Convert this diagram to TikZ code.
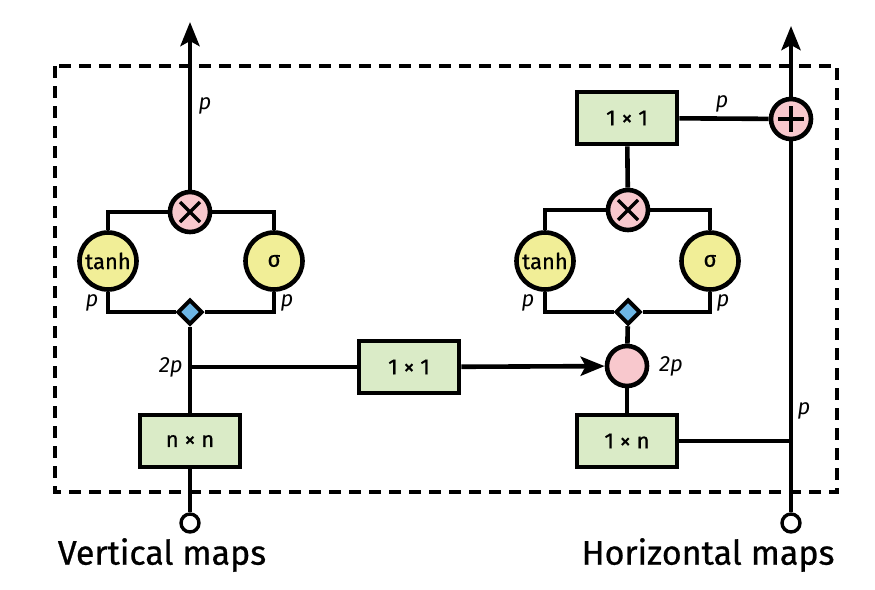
\documentclass[tikz,border=0pt]{standalone}
\usepackage{fontspec}
\setmainfont{Fira Sans}
\newfontfamily\medfont{Fira Sans}[FakeBold=0.7]
\usetikzlibrary{arrows.meta,shapes.geometric}
\definecolor{pinkc}{HTML}{F8C8CD}
\definecolor{yellowc}{HTML}{F1EE97}
\definecolor{greenc}{HTML}{DAEBC7}
\definecolor{bluec}{HTML}{6DB6E5}
\begin{document}
\begin{tikzpicture}[x=1pt,y=-1pt,line width=4.6pt,
  opbox/.style={draw,fill=greenc,minimum width=100pt,minimum height=52pt,inner sep=0pt,font=\medfont\fontsize{22}{24}\selectfont},
  act/.style={circle,draw,fill=yellowc,minimum size=57pt,inner sep=0pt,font=\medfont\fontsize{22}{24}\selectfont},
  pinkop/.style={circle,draw,fill=pinkc,minimum size=40pt,inner sep=0pt},
  mulop/.style={pinkop,path picture={\draw[line width=3.4pt] (path picture bounding box.center) +(-10,-10) -- +(10,10) +(-10,10) -- +(10,-10);}},
  addop/.style={pinkop,path picture={\draw[line width=3.4pt] (path picture bounding box.center) +(-13,0) -- +(13,0) +(0,-13) -- +(0,13);}},
  splitd/.style={diamond,draw,fill=bluec,minimum width=25pt,minimum height=25pt,inner sep=0pt,line width=4pt},
  inport/.style={circle,draw,fill=white,minimum size=18pt,inner sep=0pt,line width=3.4pt},
  lbl/.style={font=\fontsize{22}{24}\selectfont\itshape,inner sep=0pt},
  captext/.style={font=\medfont\fontsize{34}{36}\selectfont,inner sep=0pt},
  arr/.style={-{Stealth[length=24pt,width=19pt,inset=5pt]}}
]
\useasboundingbox (0,0) rectangle (875,589);
\draw[line width=4.2pt,dash pattern=on 12pt off 8pt] (55,66) rectangle (837,492);

% left column nodes
\node[mulop] (mulL) at (190,212) {};
\node[act] (tanhL) at (108,261) {tanh};
\node[act] (sigL) at (274,261) {σ};
\node[splitd] (diaL) at (190,312) {};
\coordinate (jL) at (190,367);
\node[opbox] (nnL) at (190,441) {n × n};
\node[inport] (inL) at (190,523) {};
\coordinate (topL) at (190,22);

% middle
\node[opbox] (mid) at (409,367) {1 × 1};

% right column nodes
\node[opbox] (oneR) at (627,118) {1 × 1};
\node[addop] (plus) at (791,119) {};
\node[mulop] (mulR) at (628,210) {};
\node[act] (tanhR) at (545,261) {tanh};
\node[act] (sigR) at (710,261) {σ};
\node[splitd] (diaR) at (628,312) {};
\node[pinkop] (pinkR) at (627,366) {};
\node[opbox] (nR) at (627,441) {1 × n};
\node[inport] (inR) at (791,523) {};
\coordinate (topR) at (791,26);

% left connectors
\draw[arr] (mulL) -- (topL);
\draw (tanhL.north) |- (mulL.west);
\draw (sigL.north) |- (mulL.east);
\draw (tanhL.south) |- (diaL.west);
\draw (sigL.south) |- (diaL.east);
\draw (diaL) -- (nnL);
\draw (jL) -- (mid.west);
\draw (nnL) -- (inL);

% middle arrow
\draw[arr] (mid) -- (pinkR);

% right connectors
\draw[arr] (plus) -- (topR);
\draw (oneR) -- (plus);
\draw (mulR) -- (oneR);
\draw (tanhR.north) |- (mulR.west);
\draw (sigR.north) |- (mulR.east);
\draw (tanhR.south) |- (diaR.west);
\draw (sigR.south) |- (diaR.east);
\draw (diaR) -- (pinkR);
\draw (pinkR) -- (nR);
\draw (inR) -- (plus);
\draw (nR.east) -- (nR.east -| inR);

% labels
\node[lbl] (pL1) at (205,106) {p};
\node[lbl] (pL2) at (92,303) {p};
\node[lbl] (pL3) at (287,303) {p};
\node[lbl,anchor=east] (pL4) at (185,367) {2p};
\node[lbl] (pR1) at (722,104) {p};
\node[lbl] (pR2) at (528,303) {p};
\node[lbl] (pR3) at (723,303) {p};
\node[lbl,anchor=west] (pR4) at (657,366) {2p};
\node[lbl] (pR5) at (804,411) {p};

\node[captext] (capL) at (162,555) {Vertical maps};
\node[captext] (capR) at (708,555) {Horizontal maps};
\end{tikzpicture}
\end{document}
